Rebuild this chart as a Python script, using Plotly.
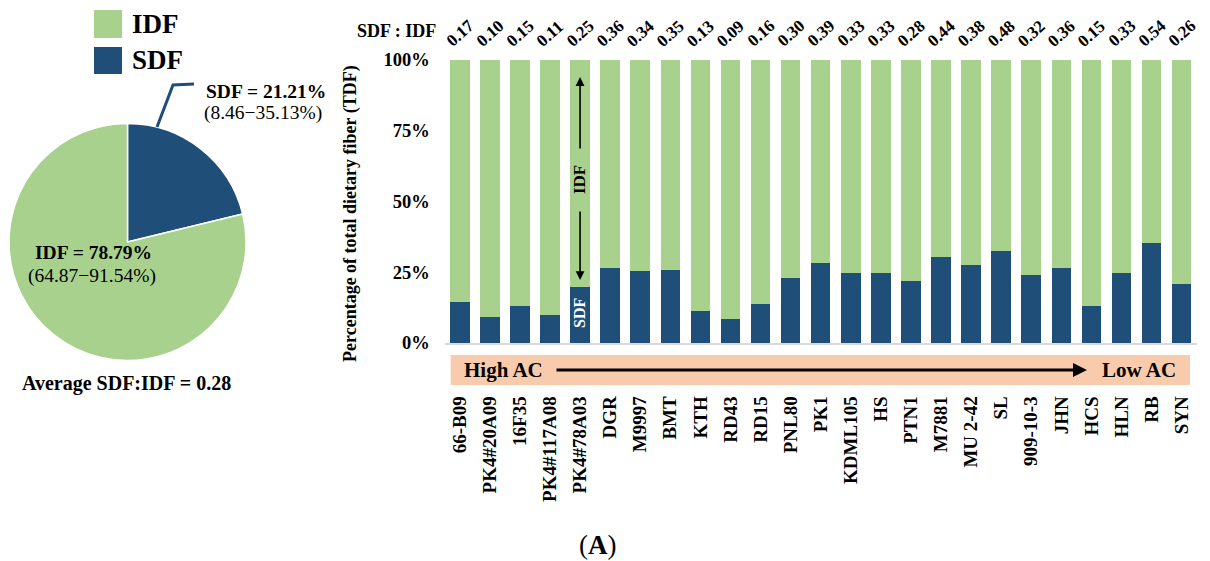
import plotly.graph_objects as go

# ---------------- data ----------------
varieties = ["66-B09", "PK4#20A09", "16F35", "PK4#117A08", "PK4#78A03", "DGR", "M9997",
             "BMT", "KTH", "RD43", "RD15", "PNL80", "PK1", "KDML105", "HS", "PTN1",
             "M7881", "MU 2-42", "SL", "909-10-3", "JHN", "HCS", "HLN", "RB", "SYN"]
sdf_pct = [14.5, 9.0, 13.0, 9.8, 19.8, 26.4, 25.5, 25.9, 11.3, 8.46, 13.7, 23.0, 28.1,
           24.8, 24.8, 21.9, 30.4, 27.4, 32.4, 24.1, 26.6, 13.0, 24.8, 35.13, 20.7]
idf_pct = [85.5, 91.0, 87.0, 90.2, 80.2, 73.6, 74.5, 74.1, 88.7, 91.54, 86.3, 77.0, 71.9,
           75.2, 75.2, 78.1, 69.6, 72.6, 67.6, 75.9, 73.4, 87.0, 75.2, 64.87, 79.3]
ratio_labels = ["0.17", "0.10", "0.15", "0.11", "0.25", "0.36", "0.34", "0.35", "0.13",
                "0.09", "0.16", "0.30", "0.39", "0.33", "0.33", "0.28", "0.44", "0.38",
                "0.48", "0.32", "0.36", "0.15", "0.33", "0.54", "0.26"]
pie_labels = ["SDF", "IDF"]
pie_values = [21.21, 78.79]
y_ticks = [0, 25, 50, 75, 100]
y_ticktext = ["0%", "25%", "50%", "75%", "100%"]

GREEN = "#A9D18E"
BLUE = "#1F4E79"
PEACH = "#F8CBAD"
FONT = "Liberation Serif"
W, H = 1210, 561


def fx(px):
    return px / W


def fy(py):
    return 1 - py / H


fig = go.Figure()

# ---------------- pie ----------------
fig.add_trace(go.Pie(
    labels=pie_labels, values=pie_values, sort=False, direction="clockwise", rotation=0,
    marker=dict(colors=[BLUE, GREEN], line=dict(color="white", width=1.5)),
    textinfo="none", hoverinfo="label+percent", showlegend=False,
    domain=dict(x=[fx(9), fx(246)], y=[fy(361), fy(123)]),
))

# ---------------- stacked bars ----------------
fig.add_trace(go.Bar(x=varieties, y=sdf_pct, name="SDF", marker=dict(color=BLUE, line=dict(width=0)),
                     showlegend=False))
fig.add_trace(go.Bar(x=varieties, y=idf_pct, name="IDF", marker=dict(color=GREEN, line=dict(width=0)),
                     showlegend=False))

fig.update_layout(
    template="none",
    width=W, height=H, autosize=False,
    margin=dict(l=0, r=0, t=0, b=0, pad=0, autoexpand=False),
    paper_bgcolor="white", plot_bgcolor="white",
    barmode="stack", bargap=0.35,
    font=dict(family=FONT, color="black"),
    xaxis=dict(domain=[fx(444.7), fx(1196.7)], range=[-0.5, 24.5], showgrid=False,
               zeroline=False, showline=True, linecolor="#D9D9D9", linewidth=1.5,
               ticks="", tickangle=-90, ticklabelstandoff=44, automargin=False,
               tickfont=dict(family=FONT, size=19, weight="bold", color="black")),
    yaxis=dict(domain=[fy(343), fy(59.5)], range=[0, 100], showgrid=False, zeroline=False,
               showline=False, tickvals=y_ticks, ticktext=y_ticktext, ticks="",
               ticklabelstandoff=14, automargin=False,
               tickfont=dict(family=FONT, size=18.5, weight="bold", color="black")),
)

ann = []


def note(px, py, text, size, xanchor="center", yanchor="middle", angle=0, color="black"):
    ann.append(dict(x=fx(px), y=fy(py), xref="paper", yref="paper", text=text,
                    xanchor=xanchor, yanchor=yanchor, textangle=angle, showarrow=False,
                    font=dict(family=FONT, size=size, color=color)))


# ratio labels above bars
for v, r in zip(varieties, ratio_labels):
    ann.append(dict(x=v, xref="x", y=fy(33), yref="paper", text="<b>" + r + "</b>",
                    textangle=-42, showarrow=False, font=dict(family=FONT, size=17),
                    xanchor="center", yanchor="middle"))
note(397, 31, "<b>SDF : IDF</b>", 18)
# y axis title
note(350, 214, "<b>Percentage of total dietary fiber (TDF)</b>", 18, angle=-90)

# arrows and labels inside bar 5
bar5 = varieties[4]
ann.append(dict(x=bar5, y=93.8, xref="x", yref="y", ax=bar5, ay=68.1, axref="x", ayref="y",
                showarrow=True, arrowhead=2, arrowsize=1.1, arrowwidth=1.6, arrowcolor="black", text=""))
ann.append(dict(x=bar5, y=22.2, xref="x", yref="y", ax=bar5, ay=46.9, axref="x", ayref="y",
                showarrow=True, arrowhead=2, arrowsize=1.1, arrowwidth=1.6, arrowcolor="black", text=""))
ann.append(dict(x=bar5, y=57.5, xref="x", yref="y", text="<b>IDF</b>", textangle=-90,
                xanchor="center", yanchor="middle",
                showarrow=False, font=dict(family=FONT, size=17, color="black")))
ann.append(dict(x=bar5, y=10.6, xref="x", yref="y", text="<b>SDF</b>", textangle=-90,
                xanchor="center", yanchor="middle",
                showarrow=False, font=dict(family=FONT, size=16, color="white")))

# banner text + arrow
note(462, 370, "<b>High AC</b>", 21, xanchor="left")
note(1178, 370, "<b>Low AC</b>", 21, xanchor="right")
ann.append(dict(x=fx(1087), y=fy(370), xref="paper", yref="paper", ax=-(1087 - 555), ay=0,
                showarrow=True, arrowhead=2, arrowsize=1.0, arrowwidth=2.8, arrowcolor="black",
                text=""))

# pie legend
note(130, 24, "<b>IDF</b>", 27, xanchor="left")
note(130, 60, "<b>SDF</b>", 27, xanchor="left")
# pie labels
note(204, 91, "<b>SDF = 21.21%</b>", 19.5, xanchor="left")
note(202, 113, "(8.46\u221235.13%)", 19.5, xanchor="left")
note(93, 252, "<b>IDF = 78.79%</b>", 19.5)
note(92, 276, "(64.87\u221291.54%)", 19.5)
note(126, 383, "<b>Average SDF:IDF = 0.28</b>", 20)
# panel label
note(598, 545, "(<b>A</b>)", 27)

fig.update_layout(annotations=ann)

shapes = [
    dict(type="rect", xref="paper", yref="paper", x0=fx(450.7), x1=fx(1190), y0=fy(385), y1=fy(355),
         fillcolor=PEACH, line=dict(width=0), layer="below"),
    dict(type="rect", xref="paper", yref="paper", x0=fx(94), x1=fx(122), y0=fy(38), y1=fy(10),
         fillcolor=GREEN, line=dict(width=0)),
    dict(type="rect", xref="paper", yref="paper", x0=fx(94), x1=fx(122), y0=fy(74), y1=fy(47),
         fillcolor=BLUE, line=dict(width=0)),
    dict(type="path", xref="paper", yref="paper",
         path="M %f,%f L %f,%f L %f,%f" % (fx(157), fy(127), fx(173), fy(85), fx(194), fy(84)),
         line=dict(color=BLUE, width=3)),
]
fig.update_layout(shapes=shapes)

fig.write_html("out.html", config={"displayModeBar": False},
               post_script="document.body.style.margin='0';document.body.style.overflow='hidden';")
